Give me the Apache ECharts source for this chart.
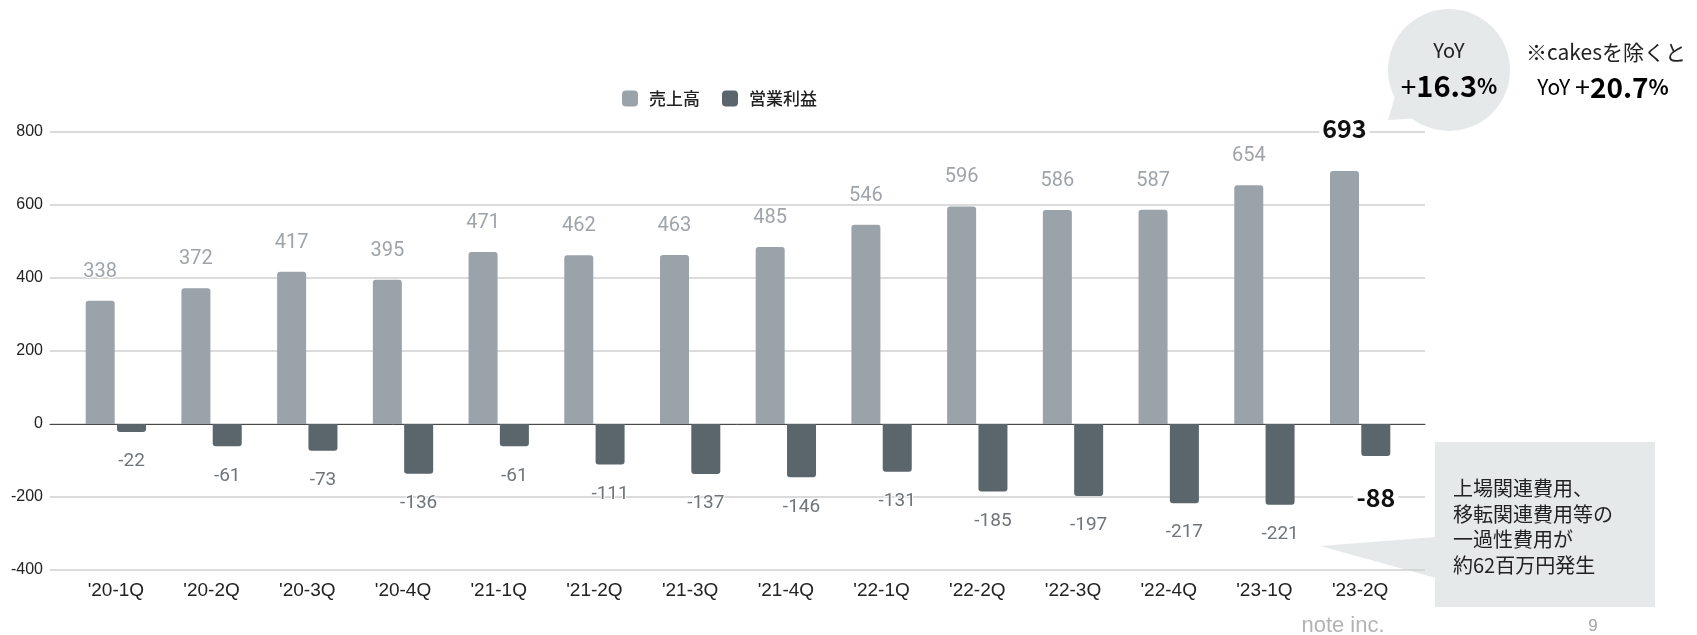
<!DOCTYPE html>
<html>
<head>
<meta charset="utf-8">
<script src="https://cdn.jsdelivr.net/npm/echarts@6/dist/echarts.min.js"></script>
<style>
  html, body { margin: 0; padding: 0; background: #fff; }
  #chart { width: 1697px; height: 635px; }
</style>
</head>
<body>
<div id="chart"></div>
<script>
// Quarterly figures (百万円)
const categories = ["'20-1Q", "'20-2Q", "'20-3Q", "'20-4Q", "'21-1Q", "'21-2Q", "'21-3Q",
                    "'21-4Q", "'22-1Q", "'22-2Q", "'22-3Q", "'22-4Q", "'23-1Q", "'23-2Q"];
const sales  = [338, 372, 417, 395, 471, 462, 463, 485, 546, 596, 586, 587, 654, 693];
const profit = [-22, -61, -73, -136, -61, -111, -137, -146, -131, -185, -197, -217, -221, -88];
const seriesNames = ['売上高', '営業利益'];
const yTicks = { min: -400, max: 800, interval: 200 };

const SALES_COLOR = '#9aa3a9';
const PROFIT_COLOR = '#5b656c';
const JP = '"Noto Sans CJK JP", "Noto Sans", sans-serif';
const LAT = '"Liberation Sans", Arial, sans-serif';

const lastIdx = categories.length - 1;

// latest quarter gets an emphasised bold label
const salesData = sales.map((v, i) => i === lastIdx ? {
  value: v,
  label: {
    fontSize: 25, fontWeight: 'bold', color: '#111', fontFamily: JP,
    textBorderWidth: 0, backgroundColor: '#fff', padding: [0, 3], distance: 30
  }
} : v);
const profitData = profit.map((v, i) => i === lastIdx ? {
  value: v,
  label: {
    fontSize: 25, fontWeight: 'bold', color: '#111', fontFamily: JP,
    textBorderWidth: 0, backgroundColor: '#fff', padding: [0, 3], distance: 29
  }
} : v);

const GRID_TOP = 132, GRID_H = 438;

const chart = echarts.init(document.getElementById('chart'), null, { renderer: 'canvas' });

chart.setOption({
  animation: false,
  backgroundColor: '#fff',
  legend: {
    data: seriesNames,
    left: 617, top: 85,
    itemWidth: 16, itemHeight: 16, itemGap: 22,
    icon: 'roundRect',
    textStyle: { fontSize: 17, fontWeight: 500, color: '#222', fontFamily: JP, padding: [0, 0, 0, 6] }
  },
  grid: [
    // background grid carrying the value scale and its lines
    { left: 50, width: 1375, top: GRID_TOP, height: GRID_H },
    // bar area
    { left: 68, width: 1340, top: GRID_TOP, height: GRID_H }
  ],
  xAxis: [
    {
      gridIndex: 0, type: 'value', min: 0, max: 1,
      axisLine: { show: true, onZero: true, lineStyle: { color: '#4a4a4a', width: 1 } },
      axisTick: { show: false }, axisLabel: { show: false }, splitLine: { show: false }
    },
    {
      gridIndex: 1, type: 'category', data: categories,
      position: 'bottom',
      axisLine: { show: false, onZero: false }, axisTick: { show: false },
      axisLabel: { fontSize: 19, color: '#222', fontFamily: LAT, margin: 11 }
    }
  ],
  yAxis: [
    {
      gridIndex: 0, type: 'value', min: yTicks.min, max: yTicks.max, interval: yTicks.interval,
      axisLine: { show: false }, axisTick: { show: false },
      axisLabel: { fontSize: 16, color: '#222', fontFamily: LAT, margin: 7 },
      splitLine: { lineStyle: { color: '#cfcfcf', width: 1.5 } }
    },
    {
      gridIndex: 1, type: 'value', min: yTicks.min, max: yTicks.max, interval: yTicks.interval,
      show: false, splitLine: { show: false }
    }
  ],
  series: [
    {
      name: seriesNames[0], type: 'bar', xAxisIndex: 1, yAxisIndex: 1,
      data: salesData, barWidth: 29, barGap: '8%',
      itemStyle: { color: SALES_COLOR, borderRadius: [3, 3, 0, 0] },
      label: {
        show: true, position: 'top', distance: 19,
        fontSize: 20, color: '#9ea4a9', fontFamily: 'Roboto, sans-serif',
        textBorderColor: '#fff', textBorderWidth: 2
      }
    },
    {
      name: seriesNames[1], type: 'bar', xAxisIndex: 1, yAxisIndex: 1,
      data: profitData, barWidth: 29,
      itemStyle: { color: PROFIT_COLOR, borderRadius: [0, 0, 3, 3] },
      label: {
        show: true, position: 'bottom', distance: 20,
        fontSize: 19, color: '#6f757a', fontFamily: 'Roboto, sans-serif',
        textBorderColor: '#fff', textBorderWidth: 2
      }
    }
  ],
  graphic: [
    // YoY speech bubble
    {
      type: 'group', z: 100,
      children: [
        { type: 'polygon', shape: { points: [[1388, 120], [1397, 90], [1425, 118]] },
          style: { fill: '#e6e9ea' } },
        { type: 'circle', shape: { cx: 1449, cy: 70, r: 61 }, style: { fill: '#e6e9ea' } },
        { type: 'text', style: { x: 1449, y: 50, text: 'YoY', align: 'center', verticalAlign: 'middle',
            font: '20px ' + JP, fill: '#222' } },
        { type: 'text', style: {
            x: 1449, y: 86, align: 'center', verticalAlign: 'middle',
            text: '{p|+}{n|16.3}{c|%}',
            rich: {
              p: { fontSize: 28, fontFamily: JP, color: '#111' },
              n: { fontSize: 29, fontWeight: 'bold', fontFamily: JP, color: '#111' },
              c: { fontSize: 21, fontWeight: 'bold', fontFamily: JP, color: '#111' }
            }
        } }
      ]
    },
    // note beside the bubble
    { type: 'text', z: 100, style: { x: 1606, y: 52, text: '※cakesを除くと', align: 'center',
        verticalAlign: 'middle', font: '21px ' + JP, fill: '#222' } },
    { type: 'text', z: 100, style: {
        x: 1603, y: 87, align: 'center', verticalAlign: 'middle',
        text: '{y|YoY }{p|+}{n|20.7}{c|%}',
        rich: {
          y: { fontSize: 21, fontFamily: JP, color: '#222' },
          p: { fontSize: 27, fontFamily: JP, color: '#111' },
          n: { fontSize: 28, fontWeight: 'bold', fontFamily: JP, color: '#111' },
          c: { fontSize: 21, fontWeight: 'bold', fontFamily: JP, color: '#111' }
        }
    } },
    // one-off expense callout
    {
      type: 'group', z: 100,
      children: [
        { type: 'polygon', shape: { points: [[1320, 546], [1436, 537], [1436, 578]] },
          style: { fill: '#e6e9ea' } },
        { type: 'rect', shape: { x: 1435, y: 442, width: 220, height: 165 }, style: { fill: '#e6e9ea' } },
        { type: 'text', style: {
            x: 1453, y: 476, text: '上場関連費用、\n移転関連費用等の\n一過性費用が\n約62百万円発生',
            font: '20px ' + JP, fill: '#222', lineHeight: 25.5, verticalAlign: 'top'
        } }
      ]
    },
    // footer
    { type: 'text', z: 100, style: { x: 1343, y: 626, text: 'note inc.', align: 'center',
        verticalAlign: 'middle', font: '22px ' + LAT, fill: '#b3b3b3' } },
    { type: 'text', z: 100, style: { x: 1593, y: 626, text: '9', align: 'center',
        verticalAlign: 'middle', font: '17px ' + LAT, fill: '#a3a3a3' } }
  ]
});
</script>
</body>
</html>
